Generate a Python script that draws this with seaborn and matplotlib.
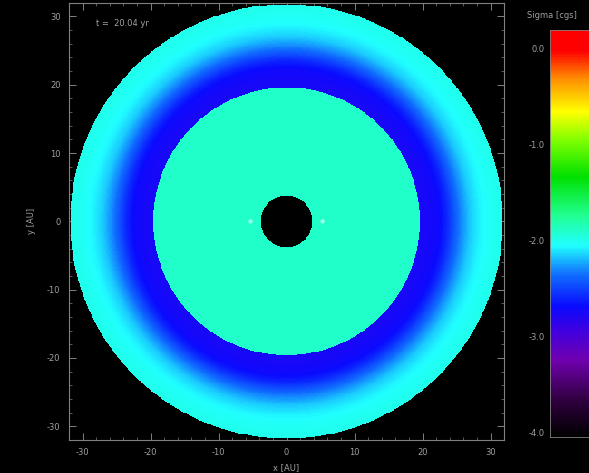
import numpy as np
import pandas as pd
import matplotlib
matplotlib.use("Agg")
import matplotlib.pyplot as plt
from matplotlib.colors import LinearSegmentedColormap
from matplotlib.ticker import FixedLocator
import seaborn as sns

# --- disk surface-density profile (log scale) ---
extent = 32.0            # half width of the box [AU]
n_cells = 480
hole_r = 3.8             # inner cavity radius [AU]
inner_edge = 19.6        # edge of the flat inner disk [AU]
outer_edge = 31.8        # outer disk radius [AU]
inner_level = -1.90      # log Sigma inside the inner disk
ring_r = [19.6, 21.0, 22.5, 23.5, 24.5, 25.5, 27.0, 28.5, 30.0, 31.8]
ring_v = [-2.74, -2.74, -2.70, -2.60, -2.46, -2.32, -2.16, -2.07, -2.02, -1.99]
planet_x = [-5.3, 5.3]
planet_y = [0.0, 0.0]

vmin, vmax = -4.05, 0.2
axis_ticks = [-30, -20, -10, 0, 10, 20, 30]
cbar_ticks = [-4.0, -3.0, -2.0, -1.0, 0.0]
cbar_ticklabels = ["-4.0", "-3.0", "-2.0", "-1.0", "0.0"]

# colour table running black -> purple -> blue -> cyan -> green -> yellow -> red
cmap_pos = [0.0, 0.09, 0.19, 0.26, 0.32, 0.40, 0.47, 0.545, 0.64, 0.73, 0.80, 0.88, 0.95, 1.0]
cmap_col = ["#000000", "#300040", "#7000b0", "#4000e0", "#0a0aff", "#1070ff", "#20ffff",
            "#20ff90", "#00e000", "#80ff00", "#ffff00", "#ff9000", "#ff0000", "#ff0000"]
cmap = LinearSegmentedColormap.from_list("disk", list(zip(cmap_pos, cmap_col)))

# build the 2-D map from the radial profile
step = 2 * extent / n_cells
xc = -extent + step * (np.arange(n_cells) + 0.5)
yc = xc[::-1]
X, Y = np.meshgrid(xc, yc)
R = np.hypot(X, Y)
field = np.where(R < hole_r, vmin,
                 np.where(R < inner_edge, inner_level, np.interp(R, ring_r, ring_v)))
field = np.where(R > outer_edge, np.nan, field)
df = pd.DataFrame(field, index=np.round(yc, 4), columns=np.round(xc, 4))

sns.set_theme(style="dark", rc={
    "figure.facecolor": "black", "axes.facecolor": "black",
    "savefig.facecolor": "black", "text.color": "#a0a0a0",
    "axes.labelcolor": "#a0a0a0", "xtick.color": "#a0a0a0", "ytick.color": "#a0a0a0",
})
plt.rcParams["font.family"] = ["DejaVu Sans"]

fig = plt.figure(figsize=(5.89, 4.73), dpi=100)
ax = fig.add_axes([0.117, 0.070, 0.739, 0.924])
cax = fig.add_axes([0.934, 0.076, 0.1, 0.861])

sns.heatmap(df, ax=ax, cbar_ax=cax, cmap=cmap, vmin=vmin, vmax=vmax,
            xticklabels=False, yticklabels=False, rasterized=True)

def to_col(v):
    return (np.asarray(v) + extent) / step

def to_row(v):
    return (extent - np.asarray(v)) / step

ax.set_xlim(0, n_cells)
ax.set_ylim(n_cells, 0)
ax.xaxis.set_major_locator(FixedLocator(to_col(axis_ticks)))
ax.yaxis.set_major_locator(FixedLocator(to_row(axis_ticks)))
ax.set_xticklabels([str(t) for t in axis_ticks])
ax.set_yticklabels([str(t) for t in axis_ticks], rotation=0)
minor = np.arange(-32, 33, 2)
ax.xaxis.set_minor_locator(FixedLocator(to_col(minor)))
ax.yaxis.set_minor_locator(FixedLocator(to_row(minor)))
ax.tick_params(which="both", direction="in", top=True, right=True,
               bottom=True, left=True, color="#808080", labelsize=6, pad=6)
ax.tick_params(which="major", length=5, width=0.7)
ax.tick_params(which="minor", length=2.5, width=0.5)
for s in ax.spines.values():
    s.set_visible(True)
    s.set_color("#808080")
    s.set_linewidth(0.8)

ax.set_xlabel("x [AU]", fontsize=6, labelpad=4)
ax.set_ylabel("y [AU]", fontsize=6, labelpad=8)

ax.scatter(to_col(planet_x), to_row(planet_y), s=10, color="white", alpha=0.55,
           edgecolors="none", zorder=5)
ax.text(to_col(-28), to_row(29), "t =  20.04 yr", fontsize=6, color="#a0a0a0",
        va="center", ha="left")

cbar = ax.collections[0].colorbar
cbar.set_ticks(cbar_ticks)
cbar.set_ticklabels(cbar_ticklabels)
cax.yaxis.set_ticks_position("left")
cax.yaxis.set_label_position("left")
cax.tick_params(axis="y", direction="in", length=3, labelsize=6, color="#808080",
                labelcolor="#a0a0a0", pad=4)
cbar.outline.set_edgecolor("#808080")
cbar.outline.set_linewidth(0.6)
fig.text(0.895, 0.968, "Sigma [cgs]", fontsize=6, color="#a0a0a0", ha="left", va="center")

fig.savefig("out.png", dpi=100, facecolor="black")
